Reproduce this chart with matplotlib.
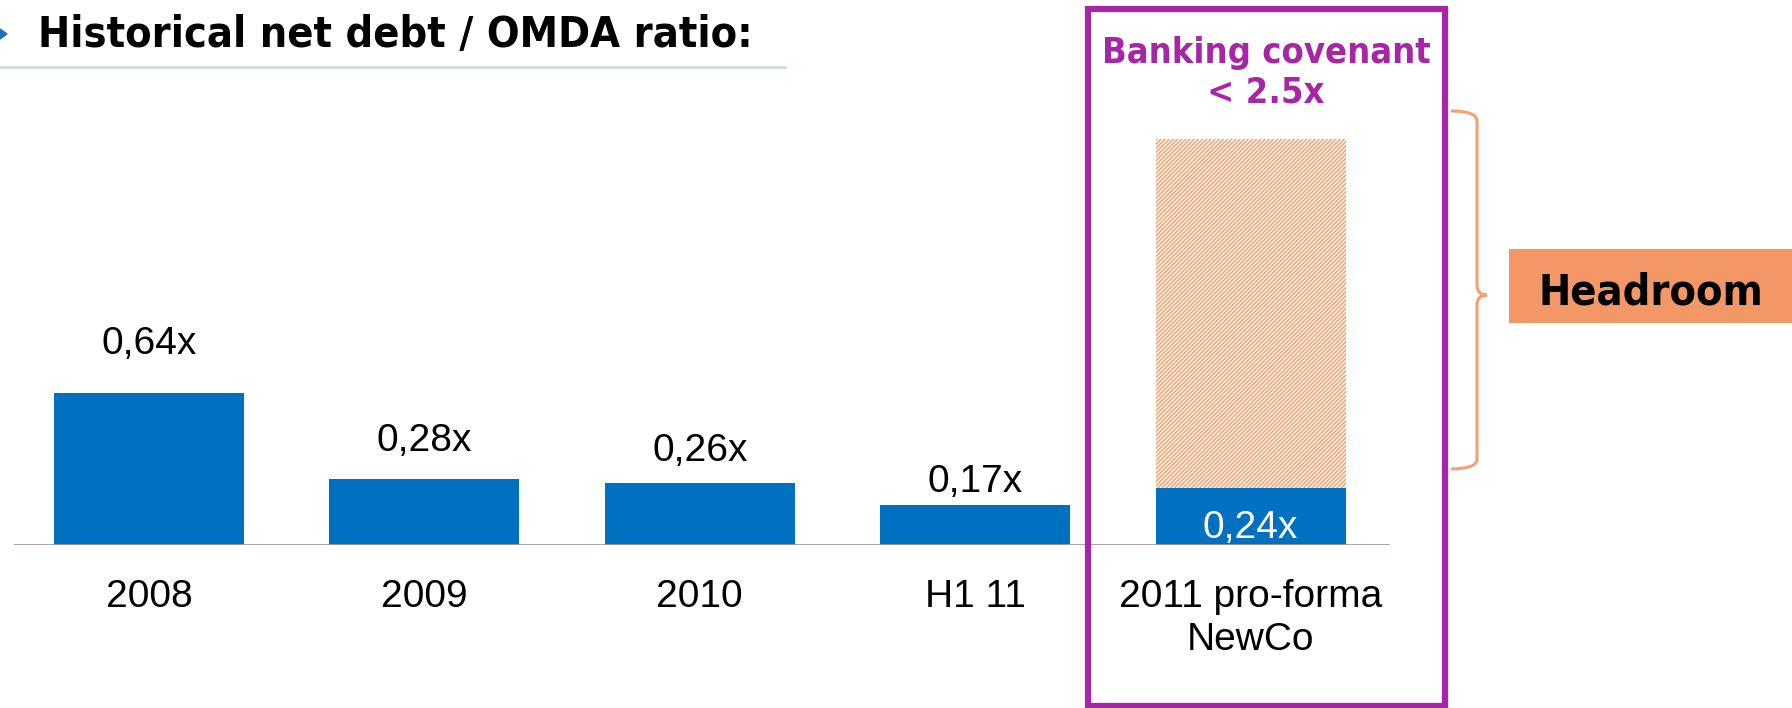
import matplotlib
matplotlib.use("Agg")
import matplotlib.pyplot as plt
from matplotlib.patches import Rectangle, PathPatch, Polygon
from matplotlib.path import Path

# ---- data ----
categories = ["2008", "2009", "2010", "H1 11", "2011 pro-forma\nNewCo"]
net_debt_omda = [0.64, 0.28, 0.26, 0.17, 0.24]
headroom = [0, 0, 0, 0, 1.47]
title = "Historical net debt / OMDA ratio:"
covenant_text = "Banking covenant\n< 2.5x"
headroom_text = "Headroom"

# ---- layout / style ----
W, H = 1792, 708
DPI = 100
BLUE = "#0070C0"
PURPLE = "#A626A6"
ORANGE = "#F4A070"
ORANGE_BOX = "#F39766"
label_pad_px = [49, 37, 32, 23]   # value label centre above bar top (px)

fig = plt.figure(figsize=(W / DPI, H / DPI), dpi=DPI)
fig.patch.set_facecolor("white")

def fx(px):
    return px / W

def fy(py):
    return 1 - py / H

ax_left, ax_right, ax_bottom, ax_top = 14, 1390, 545, 100
ax = fig.add_axes([fx(ax_left), fy(ax_bottom), fx(ax_right - ax_left), (ax_bottom - ax_top) / H])
ax.set_xlim(-0.49, 4.506)
ax.set_ylim(0, (ax_bottom - ax_top) / 237.5)
ax.axis("off")

x = list(range(len(categories)))
ax.bar(x, net_debt_omda, width=0.69, color=BLUE, zorder=3)
plt.rcParams["hatch.linewidth"] = 1.0
ax.bar(x, headroom, width=0.69, bottom=net_debt_omda, facecolor="#FFF3EA",
       edgecolor=ORANGE, hatch="////////", linewidth=0, zorder=2)
ax.axhline(0, color="#A89A90", lw=2, zorder=4)

fs = 28
for i, v in enumerate(net_debt_omda):
    txt = f"{v:.2f}".replace(".", ",") + "x"
    if headroom[i] > 0:
        ax.annotate(txt, (i, 0), xytext=(0, 17 * 72 / DPI), textcoords="offset points",
                    ha="center", va="center", fontsize=fs, color="white",
                    family="Liberation Sans", zorder=5)
    else:
        ax.annotate(txt, (i, v), xytext=(0, label_pad_px[i] * 72 / DPI), textcoords="offset points",
                    ha="center", va="center", fontsize=fs, color="black",
                    family="Liberation Sans", zorder=5)

for i, c in enumerate(categories):
    ax.annotate(c, (i, 0), xytext=(0, -34 * 72 / DPI), textcoords="offset points",
                ha="center", va="top", fontsize=fs, color="black",
                family="Liberation Sans", linespacing=1.25)

# ---- title ----
fig.text(fx(38), fy(35), title, fontsize=31, fontweight="bold", family="DejaVu Sans",
         fontstretch="condensed", ha="left", va="center", color="black")
fig.add_artist(Polygon([[fx(0), fy(29)], [fx(7), fy(34)], [fx(0), fy(39)]],
                       closed=True, transform=fig.transFigure, color="#1F6FB5"))
fig.add_artist(plt.Line2D([fx(0), fx(785)], [fy(67), fy(67)], transform=fig.transFigure,
                          color="#C8DDE6", lw=2))

# ---- purple covenant box ----
fig.add_artist(Rectangle((fx(1088), fy(706)), fx(1445 - 1088), (706 - 9) / H,
                         transform=fig.transFigure, fill=False, edgecolor=PURPLE, lw=4.5))
fig.text(fx(1266), fy(73), covenant_text, fontsize=26, fontweight="bold", family="DejaVu Sans",
         fontstretch="condensed", ha="center", va="center", color=PURPLE, linespacing=1.2)

# ---- brace ----
xl, xv, xt = 1451, 1477, 1487
yt, ym, yb = 111, 295, 469
verts = [
    (xl, yt), (xv, yt), (xv, yt + 10),
    (xv, ym - 10),
    (xv, ym), (xt, ym),
    (xv, ym), (xv, ym + 10),
    (xv, yb - 10),
    (xv, yb), (xl, yb),
]
codes = [Path.MOVETO, Path.CURVE3, Path.CURVE3, Path.LINETO,
         Path.CURVE3, Path.CURVE3, Path.CURVE3, Path.CURVE3,
         Path.LINETO, Path.CURVE3, Path.CURVE3]
verts_f = [(fx(a), fy(b)) for a, b in verts]
fig.add_artist(PathPatch(Path(verts_f, codes), transform=fig.transFigure,
                         fill=False, edgecolor=ORANGE, lw=2.2))

# ---- headroom box ----
fig.add_artist(Rectangle((fx(1509), fy(323)), fx(1792 - 1509), (323 - 249) / H,
                         transform=fig.transFigure, facecolor=ORANGE_BOX, edgecolor="none"))
fig.text(fx(1651), fy(293), headroom_text, fontsize=31, fontweight="bold", family="DejaVu Sans",
         fontstretch="condensed", ha="center", va="center", color="black")

fig.savefig("out.png", dpi=DPI)
